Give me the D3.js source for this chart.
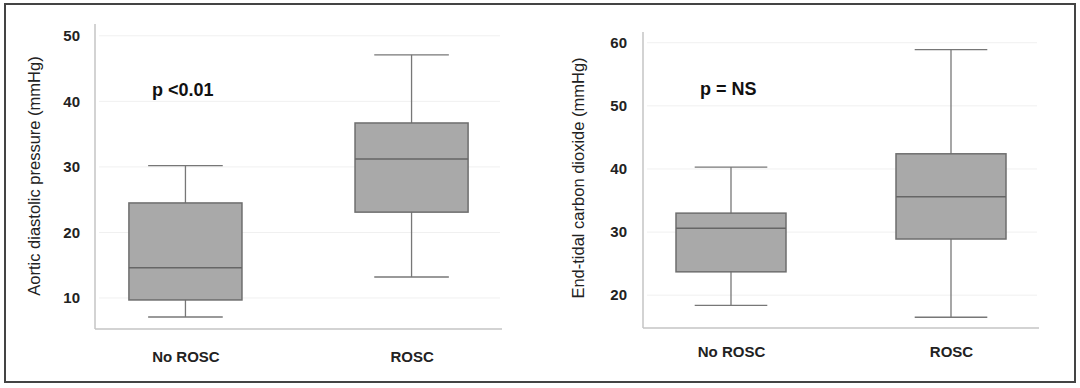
<!DOCTYPE html>
<html>
<head>
<meta charset="utf-8">
<script src="https://cdn.jsdelivr.net/npm/d3@7"></script>
<style>
  body { margin: 0; background: #fff; }
  svg { display: block; font-family: "Liberation Sans", Arial, Helvetica, sans-serif; }
  .tick text { font-weight: bold; font-size: 15px; fill: #222; }
</style>
</head>
<body>
<svg id="chart" width="1080" height="388"></svg>
<script>
// groups along the x axis
const groups = ['No ROSC', 'ROSC'];

// Aortic diastolic pressure (mmHg): [min, q1, median, q3, max]
const aorticStats = [
    [7.1, 9.7, 14.6, 24.5, 30.2],
    [13.2, 23.1, 31.2, 36.7, 47.1]
];
const aorticTicks = [10, 20, 30, 40, 50];

// End-tidal carbon dioxide (mmHg): [min, q1, median, q3, max]
const etco2Stats = [
    [18.4, 23.7, 30.6, 33.0, 40.3],
    [16.5, 28.9, 35.6, 42.4, 58.9]
];
const etco2Ticks = [20, 30, 40, 50, 60];

const svg = d3.select('#chart');

// outer frame
svg.append('rect')
    .attr('x', 5).attr('y', 4)
    .attr('width', 1070).attr('height', 378)
    .attr('fill', 'none')
    .attr('stroke', '#444')
    .attr('stroke-width', 2);

/**
 * Draws one box plot panel
 */
function drawPanel(opts) {
    let g = svg.append('g');
    let x = d3.scalePoint()
        .domain(groups)
        .range([opts.left, opts.right])
        .padding(0.4);
    let y = d3.scaleLinear()
        .domain(opts.domain)
        .range([opts.bottom, opts.top]);
    let step = x.step();
    let boxW = step * 0.5;
    let capW = step * 0.33;

    // faint gridlines
    g.selectAll('.grid')
        .data(opts.ticks)
        .enter()
        .append('line')
        .attr('x1', opts.left + 4)
        .attr('x2', opts.right - 2)
        .attr('y1', d => y(d))
        .attr('y2', d => y(d))
        .attr('stroke', '#f0f0f0')
        .attr('stroke-width', 1);

    // y axis
    let yAxis = g.append('g')
        .attr('transform', 'translate(' + opts.left + ',0)')
        .call(d3.axisLeft(y).tickValues(opts.ticks).tickSize(0).tickPadding(opts.tickPad));
    yAxis.select('.domain').remove();
    g.append('line')
        .attr('x1', opts.left).attr('x2', opts.left)
        .attr('y1', opts.top).attr('y2', opts.bottom)
        .attr('stroke', '#c4c4c4').attr('stroke-width', 1.5);

    // x axis
    let xAxis = g.append('g')
        .attr('transform', 'translate(0,' + opts.bottom + ')')
        .call(d3.axisBottom(x).tickSize(0).tickPadding(opts.xPad));
    xAxis.select('.domain').remove();
    g.append('line')
        .attr('x1', opts.left).attr('x2', opts.right)
        .attr('y1', opts.bottom).attr('y2', opts.bottom)
        .attr('stroke', '#c4c4c4').attr('stroke-width', 1.5);

    let boxes = g.selectAll('.box')
        .data(opts.stats)
        .enter()
        .append('g')
        .attr('transform', (d, i) => 'translate(' + x(groups[i]) + ',0)');

    // whisker stems
    boxes.append('line')
        .attr('x1', 0).attr('x2', 0)
        .attr('y1', d => y(d[0])).attr('y2', d => y(d[4]))
        .attr('stroke', '#777').attr('stroke-width', 1.3);
    // caps
    boxes.selectAll('.cap')
        .data(d => [d[0], d[4]])
        .enter()
        .append('line')
        .attr('x1', -capW / 2).attr('x2', capW / 2)
        .attr('y1', v => y(v)).attr('y2', v => y(v))
        .attr('stroke', '#777').attr('stroke-width', 1.3);
    // box
    boxes.append('rect')
        .attr('x', -boxW / 2)
        .attr('width', boxW)
        .attr('y', d => y(d[3]))
        .attr('height', d => y(d[1]) - y(d[3]))
        .attr('fill', '#a9a9a9')
        .attr('stroke', '#6e6e6e')
        .attr('stroke-width', 1.5);
    // median
    boxes.append('line')
        .attr('x1', -boxW / 2).attr('x2', boxW / 2)
        .attr('y1', d => y(d[2])).attr('y2', d => y(d[2]))
        .attr('stroke', '#666').attr('stroke-width', 1.5);

    // y title
    g.append('text')
        .attr('transform', 'translate(' + opts.titleX + ',' + opts.titleY + ') rotate(-90)')
        .attr('text-anchor', 'middle')
        .attr('dominant-baseline', 'central')
        .attr('font-size', 16.5)
        .attr('fill', '#222')
        .text(opts.title);

    // p value note
    g.append('text')
        .attr('x', opts.noteX)
        .attr('y', opts.noteY)
        .attr('font-size', 18)
        .attr('font-weight', 'bold')
        .attr('fill', '#111')
        .attr('dominant-baseline', 'central')
        .text(opts.note);
}

drawPanel({
    left: 95, right: 502, top: 24, bottom: 329,
    domain: [5.27, 51.8],
    ticks: aorticTicks,
    stats: aorticStats,
    tickPad: 15, xPad: 22,
    title: 'Aortic diastolic pressure (mmHg)',
    titleX: 34, titleY: 176,
    note: 'p <0.01',
    noteX: 152, noteY: 90
});

drawPanel({
    left: 643, right: 1039, top: 32, bottom: 328,
    domain: [14.8, 61.7],
    ticks: etco2Ticks,
    stats: etco2Stats,
    tickPad: 16, xPad: 18,
    title: 'End-tidal carbon dioxide (mmHg)',
    titleX: 578, titleY: 178,
    note: 'p = NS',
    noteX: 700, noteY: 89
});
</script>
</body>
</html>
